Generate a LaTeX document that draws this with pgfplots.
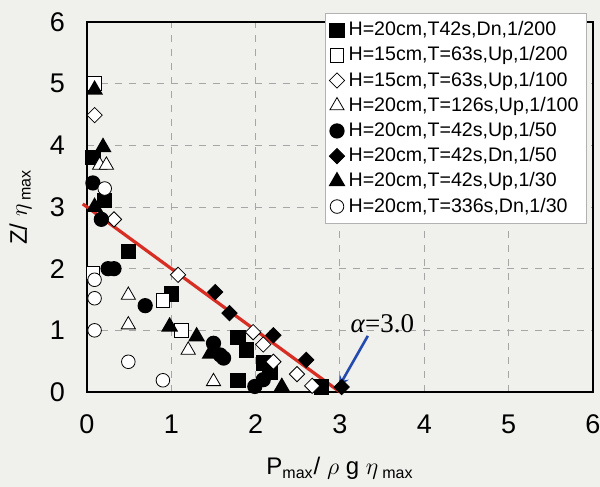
\documentclass[border=0pt]{standalone}
\usepackage{pgfplots}
\pgfplotsset{compat=1.18}
\usepackage{fontspec}
\setmainfont{Liberation Sans}
\newfontfamily\libserif{Liberation Serif}
\usetikzlibrary{arrows.meta}
\definecolor{bg}{RGB}{240,240,236}
\definecolor{fitred}{RGB}{215,45,35}
\definecolor{arrowblue}{RGB}{35,75,175}
\pagecolor{bg}
\begin{document}
\begin{tikzpicture}
  \path[use as bounding box] (-43.5pt,-47.5pt) rectangle (256.5pt,196pt);
  \begin{axis}[
      width=253pt, height=185pt, scale only axis,
      xmin=0, xmax=6, ymin=0, ymax=6,
      xtick={0,...,6}, ytick={0,...,6},
      grid=major,
      major grid style={gray!70, line width=0.5pt, dash pattern=on 3.5pt off 3.5pt},
      axis line style={line width=1.1pt},
      major tick length=0pt,
      tick label style={font=\fontsize{13.5}{15}\selectfont},
      xticklabel style={yshift=-8pt},
      yticklabel style={xshift=-7.5pt},
      /pgf/number format/assume math mode=true,
      xlabel={P\textsubscript{max}/ $\rho$ g $\eta$\,\textsubscript{max}},
      ylabel={Z/ $\eta$\,\textsubscript{max}},
      label style={font=\fontsize{12}{14}\selectfont},
      xlabel style={at={(axis description cs:0.5,0)}, anchor=base, yshift=-41.5pt},
      ylabel style={at={(axis description cs:0,0.5)}, anchor=base, yshift=30pt},
      clip=false,
      legend cell align=left,
      legend style={at={(0.988,1.024)}, anchor=north east, draw=gray!60,
        fill=white, font=\fontsize{9.8}{10.5}\selectfont, row sep=0pt,
        inner sep=2pt},
      every axis plot/.append style={only marks, black, mark options={line width=0.8pt}},
    ]
    % filled square
    \addplot[mark=square*, mark size=3.4pt] coordinates {
      (0.07,3.80) (0.21,3.10) (0.49,2.28) (1.00,1.59) (1.79,0.88)
      (1.89,0.68) (2.09,0.47) (2.17,0.32) (1.79,0.18) (2.78,0.08)
    };
    \addlegendentry{H=20cm,T42s,Dn,1/200}
    % open square
    \addplot[mark=square*, mark size=3.4pt, mark options={fill=white}] coordinates {
      (0.09,5.00) (0.07,1.93) (0.90,1.49) (1.12,1.00)
    };
    \addlegendentry{H=15cm,T=63s,Up,1/200}
    % open diamond
    \addplot[mark=square*, mark size=2.7pt, mark options={fill=white, rotate=45}] coordinates {
      (0.09,4.49) (0.32,2.80) (1.08,1.90) (1.97,0.97) (2.09,0.77)
      (2.21,0.49) (2.49,0.29) (2.67,0.10)
    };
    \addlegendentry{H=15cm,T=63s,Up,1/100}
    % open triangle
    \addplot[mark=triangle*, mark size=4.1pt, mark options={fill=white}] coordinates {
      (0.15,3.68) (0.23,3.68) (0.49,1.57) (0.49,1.09) (1.20,0.68) (1.50,0.17)
    };
    \addlegendentry{H=20cm,T=126s,Up,1/100}
    % filled circle
    \addplot[mark=*, mark size=3.4pt] coordinates {
      (0.07,3.39) (0.17,2.80) (0.25,2.00) (0.32,2.00) (0.69,1.40)
      (1.50,0.79) (1.58,0.60) (1.62,0.55) (1.99,0.09) (2.09,0.20)
    };
    \addlegendentry{H=20cm,T=42s,Up,1/50}
    % filled diamond
    \addplot[mark=square*, mark size=2.7pt, mark options={rotate=45}] coordinates {
      (1.52,1.62) (1.69,1.28) (2.21,0.92) (2.60,0.52) (3.02,0.08)
    };
    \addlegendentry{H=20cm,T=42s,Dn,1/50}
    % filled triangle
    \addplot[mark=triangle*, mark size=4.1pt] coordinates {
      (0.09,4.90) (0.19,3.97) (0.09,3.00) (0.98,1.06) (1.30,0.90)
      (1.46,0.62) (2.31,0.08)
    };
    \addlegendentry{H=20cm,T=42s,Up,1/30}
    % open circle
    \addplot[mark=*, mark size=3.4pt, mark options={fill=white}] coordinates {
      (0.21,3.30) (0.09,1.82) (0.09,1.52) (0.09,1.00) (0.49,0.49) (0.90,0.19)
    };
    \addlegendentry{H=20cm,T=336s,Dn,1/30}
    % fitted line
    \addplot[no marks, sharp plot, fitred, line width=1.6pt, forget plot] coordinates {
      (-0.05,3.05) (3.0,0.0)
    };
    \draw[arrowblue, line width=1.3pt, -{Stealth[length=6pt,width=5pt]}]
      (axis cs:3.33,0.91) -- (axis cs:2.98,0.07);
    \node[anchor=base west, inner sep=0pt, font=\libserif\fontsize{13.5}{15}\selectfont]
      at (axis cs:3.12,0.97) {\textit{α}=3.0};
  \end{axis}
\end{tikzpicture}
\end{document}
